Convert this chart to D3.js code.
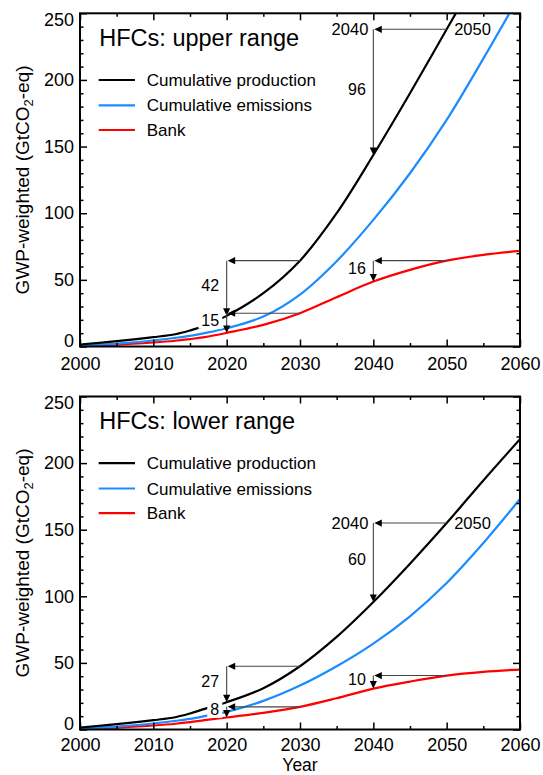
<!DOCTYPE html>
<html><head><meta charset="utf-8">
<script src="https://cdn.jsdelivr.net/npm/d3@7"></script>
<style>
body{margin:0;background:#fff}
svg{display:block}
text{font-family:"Liberation Sans",Arial,Helvetica,sans-serif;fill:#000}
</style>
</head><body>
<svg id="chart" width="543" height="775"></svg>
<script>
// ---------------- data ----------------
const years = [2000, 2005, 2010, 2013, 2015, 2017, 2020, 2025, 2030, 2035, 2040, 2045, 2050, 2055, 2060];

const upperProduction = [1.5, 4, 7, 9.2, 12, 15.5, 23, 40, 64.4, 100, 143.7, 190, 238, 286, 334];
const upperEmissions  = [0.5, 2.2, 4.5, 6.5, 8, 10, 13.7, 22.5, 39, 64, 95, 130, 170, 216, 264];
const upperBank       = [0.3, 1.3, 3, 4.3, 5.5, 7, 10.2, 16.2, 25, 37, 48.7, 57.5, 64.4, 68.7, 71.7];

const lowerProduction = [1.5, 4, 7, 9.2, 12, 15.5, 20.5, 31, 47.5, 69.5, 95.7, 124.5, 155, 187, 218];
const lowerEmissions  = [0.5, 2.2, 4.5, 6.5, 8, 10, 13.2, 21.5, 33, 47.5, 64.5, 85, 110, 140, 173];
const lowerBank       = [0.3, 1.3, 3, 4.3, 5.5, 7, 9, 12.5, 17, 23.5, 30.7, 36, 40.5, 43.3, 45];

const seriesNames  = ["Cumulative production", "Cumulative emissions", "Bank"];
const seriesColors = ["#000000", "#1a8cff", "#ff0000"];

const panelTitles = ["HFCs: upper range", "HFCs: lower range"];

const xTicksMajor = [2000, 2010, 2020, 2030, 2040, 2050, 2060];
const xTicksMinor = [2005, 2015, 2025, 2035, 2045, 2055];
const yTicksMajor = [0, 50, 100, 150, 200, 250];
const yTicksMinor = [10, 20, 30, 40, 60, 70, 80, 90, 110, 120, 130, 140, 160, 170, 180, 190, 210, 220, 230, 240];

// annotations: series index, year of horizontal start, year of vertical arrow, label
const upperAnnSeries = [0, 0, 2, 2];
const upperAnnFrom   = [2050, 2030, 2030, 2050];
const upperAnnTo     = [2040, 2020, 2020, 2040];
const upperAnnLabels = ["96", "42", "15", "16"];

const lowerAnnSeries = [0, 0, 2, 2];
const lowerAnnFrom   = [2050, 2030, 2030, 2050];
const lowerAnnTo     = [2040, 2020, 2020, 2040];
const lowerAnnLabels = ["60", "27", "8", "10"];

const cornerYearLabels = ["2040", "2050"]; // shown on first annotation of each panel

const xLabel = "Year";

// ---------------- drawing ----------------
const FONT = '"Liberation Sans",Arial,Helvetica,sans-serif';
const svg = d3.select("#chart");
const x = d3.scaleLinear().domain([2000, 2060]).range([80, 520]);

const panels = [
  {top: 13.3, bottom: 346.5, title: panelTitles[0], pad: 11,
   series: [upperProduction, upperEmissions, upperBank],
   ann: {s: upperAnnSeries, from: upperAnnFrom, to: upperAnnTo, lab: upperAnnLabels}},
  {top: 396.5, bottom: 729.5, title: panelTitles[1], pad: 9,
   series: [lowerProduction, lowerEmissions, lowerBank],
   ann: {s: lowerAnnSeries, from: lowerAnnFrom, to: lowerAnnTo, lab: lowerAnnLabels}}
];

panels.forEach((p, pi) => {
  const y = d3.scaleLinear().domain([0, 250]).range([p.bottom, p.top]);
  const g = svg.append("g");

  const clipId = "clip" + pi;
  svg.append("clipPath").attr("id", clipId).append("rect")
    .attr("x", x(2000)).attr("y", p.top).attr("width", x(2060) - x(2000)).attr("height", p.bottom - p.top);

  // data lines
  const line = d3.line().x(d => x(d[0])).y(d => y(d[1])).curve(d3.curveCatmullRom.alpha(0.5));
  const linesG = g.append("g").attr("clip-path", `url(#${clipId})`);
  [2, 1, 0].forEach(si => {
    const pts = years.map((yr, i) => [yr, p.series[si][i]]);
    linesG.append("path").attr("d", line(pts)).attr("fill", "none")
      .attr("stroke", seriesColors[si]).attr("stroke-width", 2.2).attr("stroke-linejoin", "round");
  });

  const boxG = g.append("g");
  const arrowG = g.append("g");
  const textG = g.append("g");

  const valAt = (si, yr) => p.series[si][years.indexOf(yr)];

  p.ann.s.forEach((si, k) => {
    const xa = x(p.ann.to[k]), xb = x(p.ann.from[k]);
    const yh = y(valAt(si, p.ann.from[k]));
    const yv = y(valAt(si, p.ann.to[k]));
    const hl = 7.5, hw = 3.6;
    arrowG.append("line").attr("x1", xb).attr("y1", yh).attr("x2", xa + hl).attr("y2", yh)
      .attr("stroke", "#444").attr("stroke-width", 1.1);
    arrowG.append("line").attr("x1", xa).attr("y1", yh).attr("x2", xa).attr("y2", yv - hl + 1)
      .attr("stroke", "#444").attr("stroke-width", 1.1);
    arrowG.append("path").attr("d", `M${xa + 1},${yh} L${xa + 1 + hl},${yh - hw} L${xa + 1 + hl},${yh + hw} Z`).attr("fill", "#000");
    arrowG.append("path").attr("d", `M${xa},${yv} L${xa - hw},${yv - hl} L${xa + hw},${yv - hl} Z`).attr("fill", "#000");

    const t = textG.append("text").attr("x", xa - 7.5).attr("y", (yh + yv) / 2 - 3)
      .attr("dy", "0.35em").attr("text-anchor", "end").attr("font-size", 16).text(p.ann.lab[k]);
    const bb = t.node().getBBox();
    boxG.append("rect").attr("x", bb.x - 3).attr("y", bb.y).attr("width", bb.width + 6).attr("height", bb.height).attr("fill", "#fff");

    if (k === 0) {
      textG.append("text").attr("x", xa - 5).attr("y", yh).attr("dy", "0.35em")
        .attr("text-anchor", "end").attr("font-size", 16.5).text(cornerYearLabels[0]);
      textG.append("text").attr("x", xb + 7.5).attr("y", yh).attr("dy", "0.35em")
        .attr("text-anchor", "start").attr("font-size", 16.5).text(cornerYearLabels[1]);
    }
  });

  // axes
  const styleAxis = sel => {
    sel.attr("font-family", FONT).attr("font-size", 18);
    sel.select(".domain").remove();
    sel.selectAll(".tick line").attr("stroke", "#000").attr("stroke-width", 1.5);
    sel.selectAll(".tick text").attr("fill", "#000");
  };
  const noFmt = () => "";

  svg.append("g").attr("transform", `translate(0,${p.bottom})`)
    .call(d3.axisBottom(x).tickValues(xTicksMajor).tickSize(-7).tickPadding(p.pad).tickFormat(d3.format("d"))).call(styleAxis);
  svg.append("g").attr("transform", `translate(0,${p.bottom})`)
    .call(d3.axisBottom(x).tickValues(xTicksMinor).tickSize(-3.5).tickFormat(noFmt)).call(styleAxis);
  svg.append("g").attr("transform", `translate(0,${p.top})`)
    .call(d3.axisTop(x).tickValues(xTicksMajor).tickSize(-7).tickFormat(noFmt)).call(styleAxis);
  svg.append("g").attr("transform", `translate(0,${p.top})`)
    .call(d3.axisTop(x).tickValues(xTicksMinor).tickSize(-3.5).tickFormat(noFmt)).call(styleAxis);

  const yl = svg.append("g").attr("transform", `translate(${x(2000)},0)`)
    .call(d3.axisLeft(y).tickValues(yTicksMajor).tickSize(-7).tickPadding(6).tickFormat(d3.format("d"))).call(styleAxis);
  yl.selectAll(".tick text").attr("y", d => d === 0 ? -6 : (d === 250 ? 6 : 0));
  svg.append("g").attr("transform", `translate(${x(2000)},0)`)
    .call(d3.axisLeft(y).tickValues(yTicksMinor).tickSize(-3.5).tickFormat(noFmt)).call(styleAxis);
  svg.append("g").attr("transform", `translate(${x(2060)},0)`)
    .call(d3.axisRight(y).tickValues(yTicksMajor).tickSize(-7).tickFormat(noFmt)).call(styleAxis);
  svg.append("g").attr("transform", `translate(${x(2060)},0)`)
    .call(d3.axisRight(y).tickValues(yTicksMinor).tickSize(-3.5).tickFormat(noFmt)).call(styleAxis);

  // frame
  svg.append("rect").attr("x", x(2000)).attr("y", p.top).attr("width", x(2060) - x(2000))
    .attr("height", p.bottom - p.top).attr("fill", "none").attr("stroke", "#000").attr("stroke-width", 2);

  // title
  svg.append("text").attr("x", 99.3).attr("y", p.top + 32.4).attr("font-size", 23.5).text(p.title);

  // legend
  const legY = [66.7, 92, 116.7];
  seriesNames.forEach((nm, i) => {
    const ly = p.top + legY[i];
    svg.append("line").attr("x1", 98.7).attr("x2", 135).attr("y1", ly).attr("y2", ly)
      .attr("stroke", seriesColors[i]).attr("stroke-width", 2.2);
    svg.append("text").attr("x", 146.7).attr("y", ly + 6).attr("font-size", 17).text(nm);
  });

  // y label
  const yt = svg.append("text").attr("transform", `translate(28.5,${(p.top + p.bottom) / 2}) rotate(-90)`)
    .attr("text-anchor", "middle").attr("font-size", 19);
  yt.append("tspan").text("GWP-weighted (GtCO");
  yt.append("tspan").attr("font-size", 13).attr("dy", 4).text("2");
  yt.append("tspan").attr("dy", -4).text("-eq)");
});

svg.append("text").attr("x", 300).attr("y", 771.2).attr("text-anchor", "middle").attr("font-size", 17.5).text(xLabel);
</script>
</body></html>
